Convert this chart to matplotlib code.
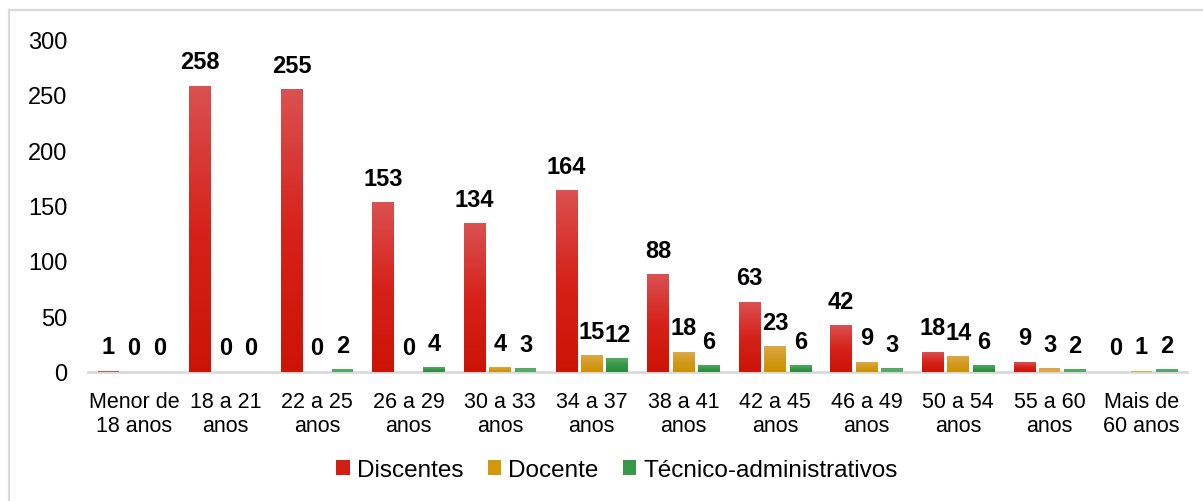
import numpy as np
import matplotlib.pyplot as plt
from matplotlib.colors import LinearSegmentedColormap
from matplotlib.patches import Patch
from matplotlib.lines import Line2D

plt.rcParams['font.family'] = ['Liberation Sans', 'DejaVu Sans']

# Dados
faixas = ['Menor de\n18 anos', '18 a 21\nanos', '22 a 25\nanos', '26 a 29\nanos',
          '30 a 33\nanos', '34 a 37\nanos', '38 a 41\nanos', '42 a 45\nanos',
          '46 a 49\nanos', '50 a 54\nanos', '55 a 60\nanos', 'Mais de\n60 anos']
discentes = [1, 258, 255, 153, 134, 164, 88, 63, 42, 18, 9, 0]
docente = [0, 0, 0, 0, 4, 15, 18, 23, 9, 14, 3, 1]
tecnicos = [0, 0, 2, 4, 3, 12, 6, 6, 3, 6, 2, 2]
series = ['Discentes', 'Docente', 'Técnico-administrativos']

# degradê de cima (claro) para baixo (escuro)
cores = [['#cc1406', '#d6221a', '#db5050'],
         ['#cc9200', '#d29a1c', '#dca848'],
         ['#2a8a3d', '#389848', '#52aa66']]
cores_leg = ['#d21e14', '#d4980c', '#37984a']

fig = plt.figure(figsize=(12.03, 5.02), dpi=100)
ax = fig.add_axes([0.0732, 0.2576, 0.9136, 0.662])

# moldura (só bordas de cima e da esquerda aparecem)
fig.add_artist(Line2D([0.0075, 0.0075], [0, 1 - 11 / 502], color='#d9d9d9', lw=1.6,
                      transform=fig.transFigure))
fig.add_artist(Line2D([0.0075, 1], [1 - 11 / 502, 1 - 11 / 502], color='#d9d9d9', lw=1.6,
                      transform=fig.transFigure))

x = np.arange(len(faixas))
w = 0.235
passo = 0.278
for k, vals in enumerate([discentes, docente, tecnicos]):
    pos = x + (k - 1) * passo
    cmap = LinearSegmentedColormap.from_list('g%d' % k, cores[k])
    bars = ax.bar(pos, vals, w, color='none', edgecolor='none', zorder=2)
    grad = np.linspace(0, 1, 100).reshape(-1, 1)
    for b, v in zip(bars, vals):
        if v > 3:
            im = ax.imshow(grad, extent=[b.get_x(), b.get_x() + w, 0, v], origin='lower',
                           aspect='auto', cmap=cmap, zorder=2, interpolation='nearest')
            im.set_clip_path(b)
        elif v > 0:
            b.set_facecolor(cores[k][2])
        ax.annotate(str(v), (b.get_x() + w / 2, v), xytext=(0, 9), textcoords='offset points',
                    ha='center', va='bottom', fontsize=17, fontweight='bold', color='black')

ax.set_xlim(-0.5, len(faixas) - 0.5)
ax.set_ylim(0, 300)
ax.set_aspect('auto')
ax.set_yticks(range(0, 301, 50))
ax.set_xticks(x)
ax.set_xticklabels(faixas, fontsize=15.5, linespacing=1.2)
ax.tick_params(axis='y', labelsize=17, length=0, pad=15)
ax.tick_params(axis='x', length=0, pad=14)
for s in ['top', 'right', 'left']:
    ax.spines[s].set_visible(False)
ax.spines['bottom'].set_color('#d9d9d9')
ax.spines['bottom'].set_linewidth(2)
ax.spines['bottom'].set_zorder(1)

handles = [Patch(facecolor=c, edgecolor='none') for c in cores_leg]
fig.legend(handles, series, loc='center', bbox_to_anchor=(0.513, 1 - 471 / 502), ncol=3,
           frameon=False, fontsize=17.5, handlelength=0.55, handleheight=0.55,
           handletextpad=0.3, columnspacing=1.0)

fig.savefig('out.png', dpi=100)
